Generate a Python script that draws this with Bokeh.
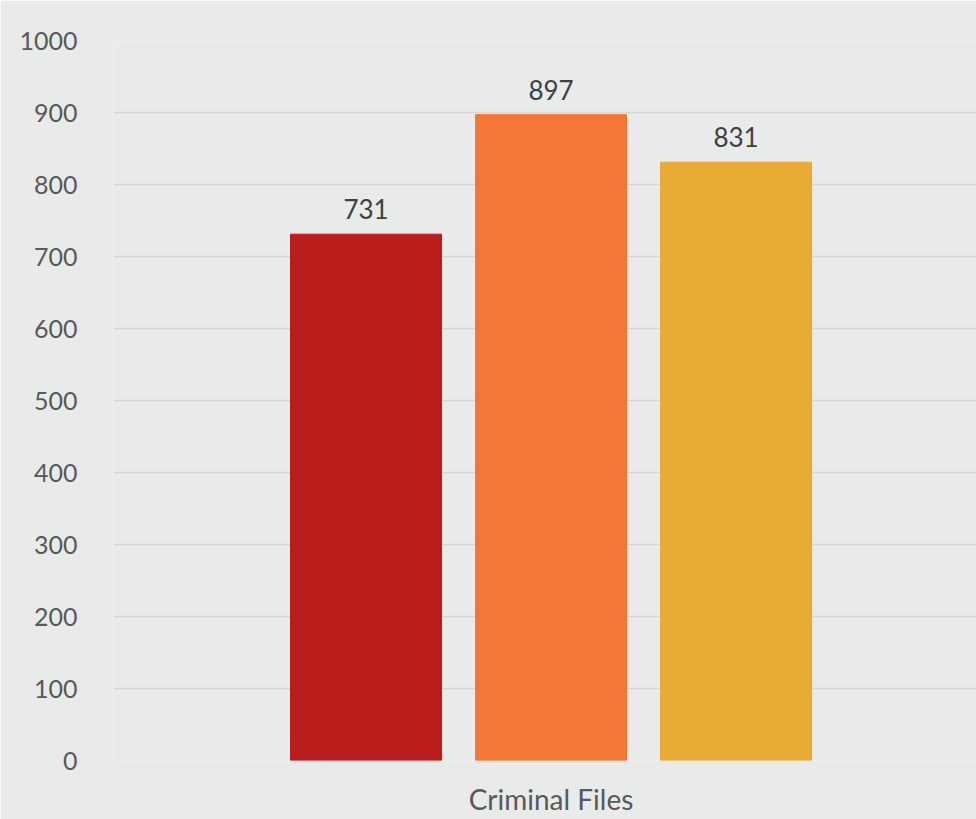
from bokeh.plotting import figure
from bokeh.models import ColumnDataSource, FixedTicker, Range1d
from bokeh.core.properties import value
from bokeh.embed import file_html
from bokeh.resources import INLINE

categories = ["Criminal Files"]
series_names = ["Series 1", "Series 2", "Series 3"]
series_values = [731, 897, 831]
series_colors = ["#BB1C1C", "#F57735", "#EAAB35"]
y_ticks = [0, 100, 200, 300, 400, 500, 600, 700, 800, 900, 1000]

xs = [i + 1 for i in range(len(series_values))]
center = sum(xs) / len(xs)

src = ColumnDataSource(dict(
    x=xs, top=series_values, color=series_colors,
    name=series_names, label=[str(v) for v in series_values],
))

BG = "#e9eaea"
FONT = "Lato"

p = figure(
    width=976, height=819,
    x_range=Range1d(center - 2.365, center + 2.3),
    y_range=Range1d(0, 1000),
    output_backend="svg", toolbar_location=None,
    min_border_left=113, min_border_right=0,
    min_border_top=40, min_border_bottom=59,
)
p.background_fill_color = BG
p.border_fill_color = BG
p.outline_line_color = None

p.vbar(x="x", top="top", width=0.816, bottom=0, color="color", source=src)
p.text(x="x", y="top", text="label", source=src,
       text_align="center", text_baseline="bottom", y_offset=-15,
       text_font=value(FONT), text_font_size="26px", text_color="#404040")

# y axis
p.yaxis.ticker = FixedTicker(ticks=y_ticks)
p.yaxis.axis_line_color = None
p.yaxis.major_tick_line_color = None
p.yaxis.minor_tick_line_color = None
p.yaxis.major_label_standoff = 30
p.yaxis.major_label_text_font = FONT
p.yaxis.major_label_text_font_size = "25px"
p.yaxis.major_label_text_color = "#595959"

# x axis with category label
p.xaxis.ticker = FixedTicker(ticks=[center])
p.xaxis.major_label_overrides = {center: categories[0]}
p.xaxis.axis_line_color = None
p.xaxis.major_tick_line_color = None
p.xaxis.minor_tick_line_color = None
p.xaxis.major_label_standoff = 15
p.xaxis.major_label_text_font = FONT
p.xaxis.major_label_text_font_size = "28px"
p.xaxis.major_label_text_color = "#595959"

p.xgrid.grid_line_color = None
p.ygrid.ticker = FixedTicker(ticks=y_ticks)
p.ygrid.grid_line_color = "#d6d6d6"
p.ygrid.grid_line_width = 1.5
p.ygrid.level = "underlay"

open("out.html", "w").write(file_html(p, INLINE))
